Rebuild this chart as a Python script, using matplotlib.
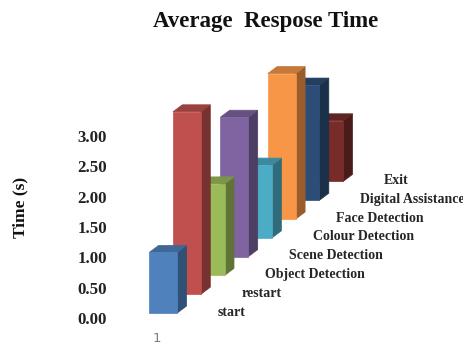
import matplotlib
matplotlib.use("Agg")
import matplotlib.pyplot as plt
from matplotlib.colors import to_rgb

title = "Average  Respose Time"
y_label = "Time (s)"
categories = ["start", "restart", "Object Detection", "Scene Detection",
              "Colour Detection", "Face Detection", "Digital Assistance", "Exit"]
values = [1.00, 3.01, 1.51, 2.30, 1.20, 2.40, 1.90, 1.00]
colors = ["#4F81BD", "#C0504D", "#9BBB59", "#8064A2",
          "#4BACC6", "#F79646", "#2C4D75", "#772C2A"]
y_ticks = [0.0, 0.5, 1.0, 1.5, 2.0, 2.5, 3.0]
x_tick = "1"

# projection of the pseudo-3D chart onto the picture (pixels)
X0, Y0 = 149.3, 313.0     # front-left bottom corner of the first bar
STEP_X, STEP_Y = 23.7, -18.8  # shift per series
UNIT = 60.6               # pixels per value unit
W = 28.0                  # front face width
DX, DY = 9.3, -7.0        # depth of a bar


def shade(c, f):
    return tuple(v * f for v in to_rgb(c))


fig = plt.figure(figsize=(4.64, 3.45), dpi=100)
ax = fig.add_axes([0, 0, 1, 1])
ax.set_xlim(0, 464)
ax.set_ylim(345, 0)
ax.axis("off")

serif = "Liberation Serif"

# back to front
for i in reversed(range(len(values))):
    x = X0 + i * STEP_X
    b = Y0 + i * STEP_Y
    t = b - values[i] * UNIT
    c = colors[i]
    z = 3 + 2 * (8 - i)
    side, top = shade(c, 0.62), shade(c, 0.8)
    ax.fill([x + W, x + W + DX, x + W + DX, x + W], [b, b + DY, t + DY, t],
            facecolor=side, edgecolor=side, lw=0.5, zorder=z)
    ax.fill([x, x + W, x + W + DX, x + DX], [t, t, t + DY, t + DY],
            facecolor=top, edgecolor=top, lw=0.5, zorder=z)
    ax.fill([x, x + W, x + W, x], [b, b, t, t],
            facecolor=c, edgecolor=c, lw=0.5, zorder=z)

for i, name in enumerate(categories):
    ax.text(218 + i * STEP_X, 312 + i * STEP_Y, name, family=serif, weight="bold",
            fontsize=10, color="#262626", ha="left", va="center", zorder=30)

for v in y_ticks:
    ax.text(107, 320 - v * UNIT, f"{v:.2f}", family=serif, weight="bold",
            fontsize=12.2, color="#222222", ha="right", va="center")

ax.text(266, 21, title, family=serif, weight="bold", fontsize=16.5,
        color="#111111", ha="center", va="center")
ax.text(20, 207.5, y_label, family=serif, weight="bold", fontsize=12.5,
        color="#111111", rotation=90, ha="center", va="center")
ax.text(156.5, 338, x_tick, family="DejaVu Sans", fontsize=9.5, color="#7F7F7F",
        ha="center", va="center")

fig.savefig("out.png", dpi=100)
